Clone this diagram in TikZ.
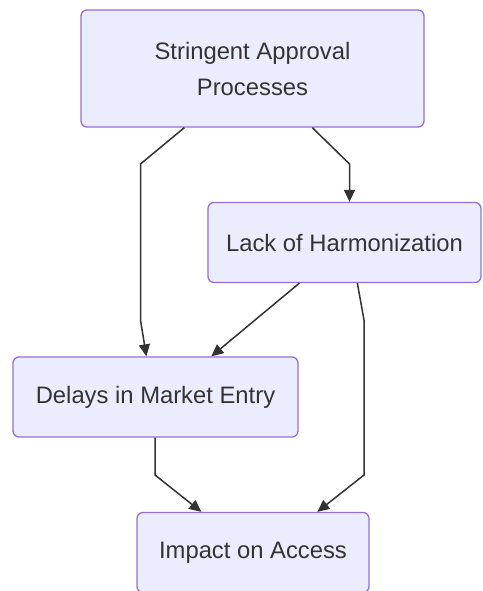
\documentclass[tikz,border=0pt]{standalone}
\usepackage{fontspec}
\setmainfont{Liberation Sans}
\usetikzlibrary{arrows.meta,calc}
\definecolor{nodefill}{HTML}{ECECFF}
\definecolor{nodeline}{HTML}{9370DB}
\definecolor{txt}{HTML}{333333}
\tikzset{
  box/.style={draw=nodeline,fill=nodefill,line width=1.3pt,rounded corners=6pt,
    inner sep=0pt,align=center,text=txt,font=\fontsize{23.8}{36}\selectfont},
  conn/.style={draw=txt,line width=1.5pt,-{Triangle[length=12pt,width=11pt]}}
}
\begin{document}
\begin{tikzpicture}[x=1pt,y=-1pt]
\useasboundingbox[fill=white] (0,0) rectangle (482,591);
\node[box,minimum width=343pt,minimum height=117pt] (A) at (252.5,68.5) {Stringent Approval\\Processes};
\node[box,minimum width=273pt,minimum height=80pt] (B) at (344.5,242.5) {Lack of Harmonization};
\node[box,minimum width=285pt,minimum height=80pt] (C) at (155.5,397) {Delays in Market Entry};
\node[box,minimum width=232pt,minimum height=80pt] (D) at (253,552.5) {Impact on Access};
\coordinate (a1) at (140.5,164);
\coordinate (a2) at (140.5,320);
\coordinate (b1) at (349.5,164);
\coordinate (c1) at (364,320);
\coordinate (c2) at (364,475);
\coordinate (d1) at (155,475);
\draw[conn] ([xshift=104pt]A.south west) -- (a1) -- (a2) -- ([xshift=134pt]C.north west);
\draw[conn] ([xshift=232pt]A.south west) -- (b1) -- (b1 |- B.north);
\draw[conn] ([xshift=92pt]B.south west) -- ([xshift=199pt]C.north west);
\draw[conn] ([xshift=150pt]B.south west) -- (c1) -- (c2) -- ([xshift=181pt]D.north west);
\draw[conn] (d1 |- C.south) -- (d1) -- ([xshift=65pt]D.north west);
\end{tikzpicture}
\end{document}
